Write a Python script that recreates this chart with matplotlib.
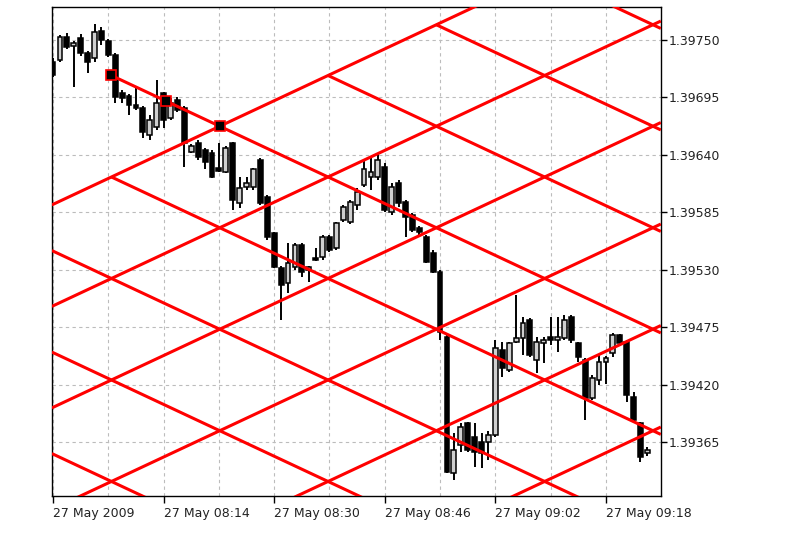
import numpy as np
import matplotlib
matplotlib.use('Agg')
import matplotlib.pyplot as plt

# M1 bars, minutes counted from 07:58
opens = [1.39729, 1.39731, 1.39753, 1.39744, 1.39752, 1.39738, 1.39733, 1.39759, 1.39749, 1.39736,
         1.39699, 1.39696, 1.39688, 1.39685, 1.39659, 1.39667, 1.39699, 1.39675, 1.39693, 1.39685,
         1.39643, 1.39651, 1.39645, 1.39642, 1.39627, 1.39624, 1.39651, 1.39594, 1.39609, 1.39609,
         1.39635, 1.39600, 1.39565, 1.39532, 1.39517, 1.39533, 1.39554, 1.39530, 1.39541, 1.39542,
         1.39561, 1.39551, 1.39578, 1.39576, 1.39592, 1.39611, 1.39619, 1.39619, 1.39628, 1.39585,
         1.39613, 1.39595, 1.39582, 1.39570, 1.39561, 1.39546, 1.39528, 1.39466, 1.39335, 1.39362,
         1.39383, 1.39370, 1.39365, 1.39365, 1.39372, 1.39453, 1.39434, 1.39461, 1.39465, 1.39482,
         1.39444, 1.39460, 1.39466, 1.39463, 1.39465, 1.39485, 1.39460, 1.39444, 1.39407, 1.39424,
         1.39442, 1.39450, 1.39467, 1.39461, 1.39408, 1.39383, 1.39354]
highs = [1.39733, 1.39755, 1.39757, 1.39749, 1.39756, 1.39739, 1.39765, 1.39762, 1.39751, 1.39738,
         1.39702, 1.39698, 1.39704, 1.39687, 1.39678, 1.39712, 1.39700, 1.39694, 1.39695, 1.39687,
         1.39650, 1.39654, 1.39647, 1.39645, 1.39651, 1.39648, 1.39652, 1.39619, 1.39619, 1.39627,
         1.39637, 1.39602, 1.39566, 1.39534, 1.39556, 1.39556, 1.39556, 1.39534, 1.39551, 1.39563,
         1.39563, 1.39576, 1.39592, 1.39597, 1.39608, 1.39635, 1.39638, 1.39642, 1.39632, 1.39613,
         1.39616, 1.39597, 1.39584, 1.39572, 1.39563, 1.39549, 1.39530, 1.39467, 1.39374, 1.39383,
         1.39384, 1.39383, 1.39374, 1.39376, 1.39463, 1.39461, 1.39461, 1.39506, 1.39485, 1.39484,
         1.39466, 1.39466, 1.39485, 1.39485, 1.39487, 1.39487, 1.39461, 1.39445, 1.39429, 1.39448,
         1.39447, 1.39469, 1.39468, 1.39463, 1.39413, 1.39384, 1.39360]
lows = [1.39715, 1.39729, 1.39741, 1.39705, 1.39735, 1.39718, 1.39729, 1.39745, 1.39734, 1.39690,
        1.39690, 1.39678, 1.39683, 1.39656, 1.39654, 1.39664, 1.39666, 1.39673, 1.39681, 1.39628,
        1.39642, 1.39635, 1.39626, 1.39618, 1.39624, 1.39623, 1.39587, 1.39589, 1.39606, 1.39606,
        1.39592, 1.39558, 1.39532, 1.39482, 1.39508, 1.39530, 1.39523, 1.39518, 1.39538, 1.39539,
        1.39547, 1.39549, 1.39576, 1.39574, 1.39587, 1.39609, 1.39606, 1.39616, 1.39585, 1.39582,
        1.39590, 1.39561, 1.39566, 1.39563, 1.39536, 1.39527, 1.39463, 1.39335, 1.39329, 1.39355,
        1.39355, 1.39341, 1.39340, 1.39348, 1.39370, 1.39427, 1.39432, 1.39460, 1.39448, 1.39446,
        1.39431, 1.39441, 1.39458, 1.39451, 1.39463, 1.39460, 1.39442, 1.39386, 1.39405, 1.39420,
        1.39421, 1.39446, 1.39459, 1.39403, 1.39384, 1.39346, 1.39352]
closes = [1.39716, 1.39753, 1.39743, 1.39747, 1.39738, 1.39729, 1.39758, 1.39750, 1.39736, 1.39695,
          1.39694, 1.39688, 1.39685, 1.39662, 1.39673, 1.39690, 1.39673, 1.39690, 1.39683, 1.39651,
          1.39648, 1.39638, 1.39633, 1.39619, 1.39625, 1.39647, 1.39597, 1.39608, 1.39613, 1.39626,
          1.39594, 1.39561, 1.39533, 1.39515, 1.39536, 1.39554, 1.39528, 1.39533, 1.39539, 1.39561,
          1.39549, 1.39575, 1.39590, 1.39595, 1.39604, 1.39626, 1.39624, 1.39635, 1.39587, 1.39609,
          1.39594, 1.39580, 1.39568, 1.39566, 1.39537, 1.39528, 1.39470, 1.39336, 1.39357, 1.39379,
          1.39357, 1.39355, 1.39354, 1.39372, 1.39455, 1.39436, 1.39460, 1.39465, 1.39479, 1.39448,
          1.39461, 1.39463, 1.39463, 1.39466, 1.39482, 1.39463, 1.39446, 1.39407, 1.39426, 1.39442,
          1.39445, 1.39467, 1.39460, 1.39410, 1.39386, 1.39351, 1.39357]
minutes = np.arange(len(opens))

x_ticks = [0, 16, 32, 48, 64, 80]
x_labels = ['27 May 2009', '27 May 08:14', '27 May 08:30', '27 May 08:46', '27 May 09:02', '27 May 09:18']
y_ticks = [1.39365, 1.39420, 1.39475, 1.39530, 1.39585, 1.39640, 1.39695, 1.39750]

# Gann grid anchor points (minute, price)
p1 = (8.45, 1.39716)
p2 = (24.12, 1.396674)

fig = plt.figure(figsize=(8, 5.34), dpi=100)
ax = fig.add_axes([0.065, 0.0712, 0.761, 0.9157])
ax.set_xlim(-0.15, 87.94)
ax.set_ylim(1.393133, 1.397816)

# grid
ax.set_axisbelow(True)
ax.set_xticks(x_ticks)
ax.set_xticks(np.arange(8, 88, 16), minor=True)
ax.set_yticks(y_ticks)
ax.grid(True, which='both', axis='x', color='#bcbcbc', lw=0.8, ls=(0, (3, 3)))
ax.grid(True, which='major', axis='y', color='#bcbcbc', lw=0.8, ls=(0, (3, 3)))

# candles
o = np.array(opens); h = np.array(highs); l = np.array(lows); c = np.array(closes)
ax.vlines(minutes, l, h, color='black', lw=1.4, zorder=2)
bull = c >= o
w = 0.7
ax.bar(minutes[bull], (c - o)[bull], bottom=o[bull], width=w, color='#cfcfcf',
       edgecolor='black', lw=1.1, zorder=2.5)
ax.bar(minutes[~bull], (o - c)[~bull], bottom=c[~bull], width=w, color='black',
       edgecolor='black', lw=1.1, zorder=2.5)

# gann grid
m = (p2[1] - p1[1]) / (p2[0] - p1[0])
D = 2 * (p1[1] - p2[1])
t = np.linspace(-1, 89, 4000)
asc1 = p1[1] - m * (t - p1[0]) - D
desc0 = p1[1] + m * (t - p1[0])
eps = D * 1e-6
for i in range(-6, 9):
    y = p1[1] + m * (t - p1[0]) - i * D
    ok = (y <= asc1 + eps) | ((t >= p1[0]) & (y <= desc0 + eps))
    ax.plot(t, np.where(ok, y, np.nan), color='#ff0000', lw=2.2, zorder=3, solid_capstyle='butt')
for j in range(0, 9):
    y = p1[1] - m * (t - p1[0]) - j * D
    ok = (y <= asc1 + eps) | ((t >= p1[0]) & (y <= desc0 + eps))
    ax.plot(t, np.where(ok, y, np.nan), color='#ff0000', lw=2.2, zorder=3, solid_capstyle='butt')

mid = ((p1[0] + p2[0]) / 2, (p1[1] + p2[1]) / 2)
for pt in [p1, mid, p2]:
    ax.plot(pt[0], pt[1], 's', ms=7, mfc='black', mec='#ff0000', mew=1.2, zorder=4)

# axes look
for s in ax.spines.values():
    s.set_color('black')
    s.set_linewidth(1.0)
ax.yaxis.tick_right()
ax.set_yticklabels(['%.5f' % v for v in y_ticks])
ax.set_xticklabels(x_labels, ha='left')
ax.tick_params(axis='y', which='major', direction='out', length=4, width=1, pad=2,
               labelsize=9, colors='black', labelcolor='#222222')
ax.tick_params(axis='x', which='major', direction='out', length=5, width=1, pad=3,
               labelsize=9, labelcolor='#222222')
ax.tick_params(axis='x', which='minor', length=0)

fig.savefig('out.png', dpi=100, facecolor='white')
